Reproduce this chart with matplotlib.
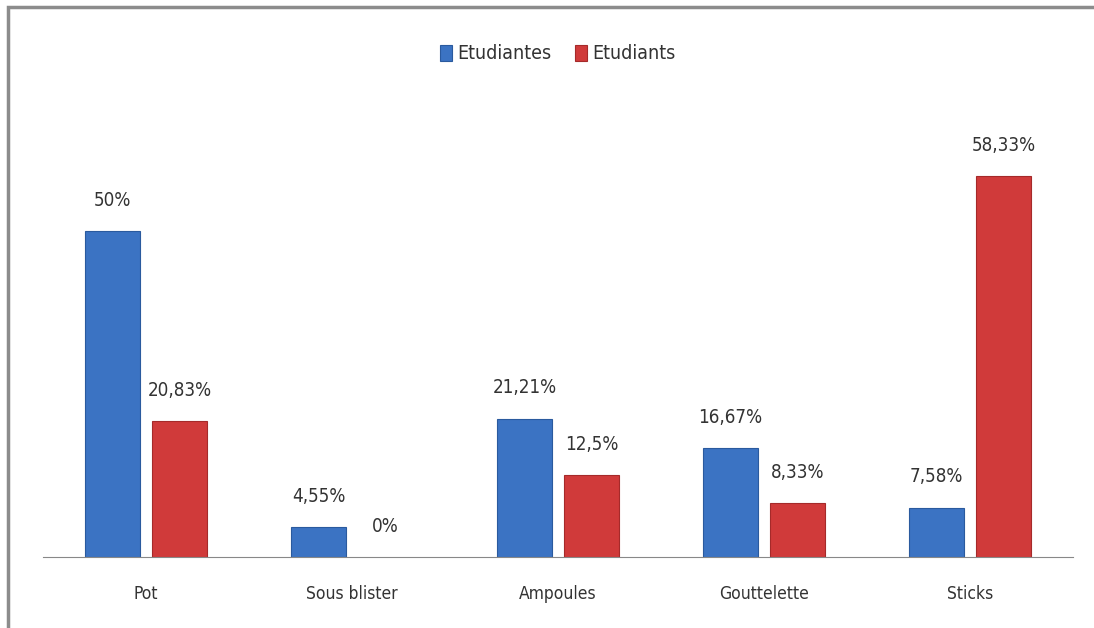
import matplotlib.pyplot as plt
from matplotlib.patches import Rectangle
import numpy as np

categories = ["Pot", "Sous blister", "Ampoules", "Gouttelette", "Sticks"]
etudiantes = [50, 4.55, 21.21, 16.67, 7.58]
etudiants = [20.83, 0, 12.5, 8.33, 58.33]
labels_f = ["50%", "4,55%", "21,21%", "16,67%", "7,58%"]
labels_m = ["20,83%", "0%", "12,5%", "8,33%", "58,33%"]

plt.rcParams['font.family'] = ['DejaVu Sans']
plt.rcParams['font.stretch'] = 'condensed'

fig = plt.figure(figsize=(10.94, 6.28), dpi=100)
ax = fig.add_axes([43 / 1094, 71 / 628, 1030 / 1094, 457 / 628])

# cadre gris autour du graphique
fig.patches.append(Rectangle((8 / 1094, -0.1), 1.2, (628 - 7) / 628 + 0.1,
                             transform=fig.transFigure, fill=False,
                             edgecolor="#8c8c8c", linewidth=2.5))

x = np.arange(len(categories))
w = 0.267
gap = 0.058
bleu = "#3b73c3"
rouge = "#d03a3a"

b1 = ax.bar(x - (w + gap) / 2, etudiantes, w, color=bleu,
            edgecolor="#2a5a9e", linewidth=0.8, label="Etudiantes")
b2 = ax.bar(x + (w + gap) / 2, etudiants, w, color=rouge,
            edgecolor="#a52a2a", linewidth=0.8, label="Etudiants")
for b in list(b1) + list(b2):
    if b.get_height() == 0:
        b.set_linewidth(0)

for bars, labs in [(b1, labels_f), (b2, labels_m)]:
    for b, t in zip(bars, labs):
        ax.annotate(t, (b.get_x() + b.get_width() / 2, b.get_height()),
                    xytext=(0, 22), textcoords="offset points",
                    ha="center", va="center", fontsize=13.5, color="#333333")

ax.set_xlim(-0.5, len(categories) - 0.5)
ax.set_ylim(0, 70)
ax.set_xticks(x)
ax.set_xticklabels(categories, fontsize=12.5, color="#333333")
ax.tick_params(axis="x", length=0, pad=20)
ax.set_yticks([])
for s in ["top", "right", "left"]:
    ax.spines[s].set_visible(False)
ax.spines["bottom"].set_color("#888888")

ax.legend(loc="upper center", bbox_to_anchor=(0.5, 1.16), ncol=2,
          frameon=False, fontsize=14, handlelength=0.6, handleheight=0.9,
          handletextpad=0.3, columnspacing=1.2, labelcolor="#333333")

fig.savefig("out.png", dpi=100)
